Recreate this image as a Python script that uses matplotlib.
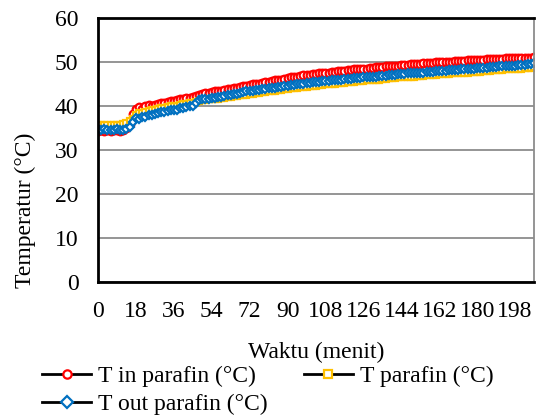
import matplotlib
matplotlib.use('Agg')
import matplotlib.pyplot as plt

plt.rcParams['font.family'] = ['Liberation Serif', 'DejaVu Serif']

# waktu tiap 1.5 menit
waktu = [i * 1.5 for i in range(139)]

t_in = [34.4, 34.5, 34.3, 34.5, 34.4, 34.6, 34.5, 34.4, 34.6, 34.9, 35.8,
        38.2, 39.4, 39.8, 39.3, 39.9, 40.2, 40.0, 40.3, 40.4, 40.6,
        40.7, 40.9, 41.1, 41.2, 41.3, 41.5, 41.6, 41.8, 41.9, 42.1,
        42.3, 42.6, 42.8, 42.9, 43.0, 43.2, 43.3, 43.4, 43.5, 43.7,
        43.8, 43.9, 44.1, 44.2, 44.4, 44.5, 44.6, 44.7, 44.9, 45.0,
        45.1, 45.2, 45.4, 45.5, 45.6, 45.8, 45.9, 46.0, 46.2, 46.4,
        46.7, 46.6, 46.7, 46.9, 47.0, 47.1, 47.1, 47.2, 47.3, 47.4,
        47.5, 47.6, 47.6, 47.7, 47.8, 47.9, 48.0, 48.0, 48.1, 48.2,
        48.3, 48.3, 48.4, 48.5, 48.5, 48.6, 48.7, 48.8, 48.8, 48.9,
        49.0, 49.1, 49.1, 49.2, 49.2, 49.3, 49.3, 49.4, 49.5, 49.5,
        49.6, 49.6, 49.7, 49.7, 49.8, 49.8, 49.9, 49.9, 50.0, 50.0,
        50.1, 50.1, 50.2, 50.2, 50.3, 50.3, 50.4, 50.4, 50.4, 50.5,
        50.5, 50.5, 50.6, 50.6, 50.6, 50.7, 50.7, 50.7, 50.8, 50.8,
        50.8, 50.9, 50.9, 50.9, 51.0, 51.0, 51.0, 51.1]

t_par = [35.6, 35.6, 35.7, 35.6, 35.6, 35.7, 35.6, 35.7, 35.8, 36.2, 36.6,
         37.0, 38.0, 38.3, 38.5, 38.7, 38.9, 39.0, 39.2, 39.3, 39.5,
         39.6, 39.7, 39.9, 40.0, 40.1, 40.3, 40.4, 40.5, 40.6, 40.7,
         40.9, 41.2, 41.3, 41.4, 41.5, 41.6, 41.6, 41.7, 41.8, 41.9,
         42.0, 42.1, 42.2, 42.3, 42.4, 42.5, 42.6, 42.7, 42.8, 42.9,
         43.0, 43.1, 43.2, 43.3, 43.4, 43.5, 43.6, 43.7, 43.8, 43.9,
         44.0, 44.1, 44.2, 44.3, 44.3, 44.4, 44.5, 44.6, 44.6, 44.7,
         44.8, 44.9, 44.9, 45.0, 45.1, 45.2, 45.2, 45.3, 45.4, 45.4,
         45.5, 45.6, 45.6, 45.7, 45.8, 45.8, 45.9, 46.0, 46.0, 46.1,
         46.2, 46.3, 46.3, 46.4, 46.5, 46.5, 46.6, 46.6, 46.7, 46.7,
         46.8, 46.8, 46.9, 47.0, 47.0, 47.1, 47.1, 47.2, 47.2, 47.3,
         47.3, 47.4, 47.4, 47.5, 47.5, 47.6, 47.6, 47.7, 47.7, 47.8,
         47.8, 47.9, 47.9, 48.0, 48.1, 48.1, 48.2, 48.2, 48.3, 48.3,
         48.4, 48.4, 48.5, 48.5, 48.6, 48.7, 48.7, 48.8]

t_out = [34.8, 34.6, 34.7, 34.5, 34.6, 34.5, 34.7, 34.6, 34.5, 34.8, 35.2,
         36.3, 37.2, 37.0, 37.5, 37.6, 37.9, 38.0, 38.2, 38.3, 38.6,
         38.7, 38.8, 39.0, 39.2, 39.1, 39.5, 39.6, 39.8, 40.0, 40.1,
         40.6, 41.3, 41.5, 41.6, 41.7, 41.8, 41.8, 42.0, 42.1, 42.2,
         42.4, 42.5, 42.7, 42.8, 43.0, 43.1, 43.3, 43.4, 43.5, 43.6,
         43.7, 43.8, 43.9, 44.0, 44.1, 44.2, 44.3, 44.4, 44.5, 44.6,
         44.8, 44.8, 45.0, 45.0, 45.1, 45.2, 45.3, 45.4, 45.4, 45.5,
         45.6, 45.7, 45.7, 45.8, 45.9, 46.0, 46.0, 46.1, 46.2, 46.2,
         46.3, 46.4, 46.4, 46.5, 46.6, 46.6, 46.7, 46.7, 46.8, 46.9,
         46.9, 47.0, 47.1, 47.1, 47.2, 47.2, 47.3, 47.4, 47.4, 47.5,
         47.5, 47.6, 47.6, 47.7, 47.8, 47.8, 47.9, 47.9, 48.0, 48.0,
         48.1, 48.1, 48.2, 48.2, 48.3, 48.3, 48.4, 48.4, 48.5, 48.6,
         48.6, 48.7, 48.7, 48.8, 48.9, 48.9, 49.0, 49.0, 49.1, 49.1,
         49.2, 49.2, 49.3, 49.4, 49.4, 49.5, 49.6, 49.7]

xticks = [0, 18, 36, 54, 72, 90, 108, 126, 144, 162, 180, 198]

fig = plt.figure(figsize=(5.36, 4.16), dpi=100)
ax = fig.add_axes([98 / 536, 1 - 282 / 416, 436 / 536, 264 / 416])

l1, = ax.plot(waktu, t_in, color='black', lw=1.5, marker='o', ms=5.5,
              mfc='white', mec='#ff0000', mew=1.6, label='T in parafin (°C)')
l2, = ax.plot(waktu, t_par, color='black', lw=1.5, marker='s', ms=5,
              mfc='white', mec='#ffc000', mew=1.6, label='T parafin (°C)')
l3, = ax.plot(waktu, t_out, color='black', lw=1.5, marker='D', ms=4.5,
              mfc='white', mec='#0070c0', mew=1.6, label='T out parafin (°C)')

ax.set_xlim(0, 207)
ax.set_ylim(0, 60)
ax.set_yticks(range(0, 61, 10))
ax.set_xticks(xticks)
ax.grid(axis='y', color='#8c8c8c', lw=1.3)
ax.set_axisbelow(True)
ax.tick_params(length=0, labelsize=17)
ax.tick_params(axis='y', pad=14)
ax.tick_params(axis='x', pad=14)
for s in ['left', 'bottom', 'top']:
    ax.spines[s].set_color('black')
    ax.spines[s].set_linewidth(2)
ax.spines['right'].set_color('#8c8c8c')
ax.spines['right'].set_linewidth(1.3)

ax.set_xlabel('Waktu (menit)', fontsize=17, labelpad=14)
fig.text(25 / 536, 1 - 210 / 416, 'Temperatur (°C)', rotation=90,
         fontsize=17, ha='center', va='center')

leg = fig.legend([l1, l3, l2], [l1.get_label(), l3.get_label(), l2.get_label()],
                 loc='upper left', bbox_to_anchor=(30 / 536, 1 - 354 / 416),
                 ncol=2, frameon=False, fontsize=17, handlelength=2.1,
                 handletextpad=0.3, columnspacing=1.5, labelspacing=0.26,
                 borderpad=0)
for h in leg.legend_handles:
    h.set_linewidth(2)
    h.set_markersize(6)

fig.savefig('out.png', dpi=100)
